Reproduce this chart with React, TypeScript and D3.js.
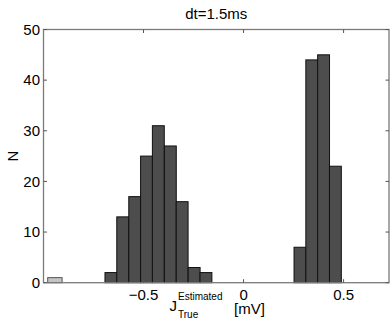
import React, { useEffect, useRef } from "react";
import * as d3 from "d3";

// histogram bins (centres in mV) and counts
const mainBins = [-0.663, -0.604, -0.544, -0.485, -0.426, -0.366, -0.307, -0.247, -0.188];
const mainCounts = [2, 13, 17, 25, 31, 27, 16, 3, 2];
const posBins = [0.282, 0.341, 0.4, 0.459];
const posCounts = [7, 44, 45, 23];
const outBins = [-0.943];
const outCounts = [1];
const binWidth = 0.0594;
const outWidth = 0.072;

const xTicks = [-0.5, 0, 0.5];
const yTicks = [0, 10, 20, 30, 40, 50];
const title = "dt=1.5ms";

export default function App() {
  const ref = useRef<SVGSVGElement>(null);

  useEffect(() => {
    const width = 392;
    const height = 323;
    const margin = { top: 29.5, right: 3, bottom: 40.3, left: 43.5 };
    const font = "Liberation Sans, Arial, sans-serif";

    const svg = d3.select(ref.current);
    svg.selectAll("*").remove();

    const x = d3.scaleLinear([-1, 0.727], [margin.left, width - margin.right]);
    const y = d3.scaleLinear([0, 50], [height - margin.bottom, margin.top]);

    const dark = mainBins.map((b, i) => ({ c: b, n: mainCounts[i] }))
      .concat(posBins.map((b, i) => ({ c: b, n: posCounts[i] })));
    const light = outBins.map((b, i) => ({ c: b, n: outCounts[i] }));

    svg.append("g")
      .selectAll("rect")
      .data(dark)
      .join("rect")
      .attr("x", d => x(d.c - binWidth / 2))
      .attr("width", d => x(d.c + binWidth / 2) - x(d.c - binWidth / 2))
      .attr("y", d => y(d.n))
      .attr("height", d => y(0) - y(d.n))
      .attr("fill", "#4d4d4d")
      .attr("stroke", "#111")
      .attr("stroke-width", 1);

    svg.append("g")
      .selectAll("rect")
      .data(light)
      .join("rect")
      .attr("x", d => x(d.c - outWidth / 2))
      .attr("width", d => x(d.c + outWidth / 2) - x(d.c - outWidth / 2))
      .attr("y", d => y(d.n))
      .attr("height", d => y(0) - y(d.n))
      .attr("fill", "#c4c4c4")
      .attr("stroke", "#555")
      .attr("stroke-width", 1);

    // box
    const [x0, x1] = x.range();
    const [y0, y1] = y.range();
    svg.append("rect")
      .attr("x", x0).attr("y", y1)
      .attr("width", x1 - x0).attr("height", y0 - y1)
      .attr("fill", "none")
      .attr("stroke", "#7a7a7a")
      .attr("stroke-width", 1.3);

    const tl = 3.5;
    const ticks = svg.append("g").attr("stroke", "#555").attr("stroke-width", 1);
    xTicks.forEach(t => {
      ticks.append("line").attr("x1", x(t)).attr("x2", x(t)).attr("y1", y0).attr("y2", y0 - tl);
      ticks.append("line").attr("x1", x(t)).attr("x2", x(t)).attr("y1", y1).attr("y2", y1 + tl);
    });
    yTicks.forEach(t => {
      ticks.append("line").attr("x1", x0).attr("x2", x0 + tl).attr("y1", y(t)).attr("y2", y(t));
      ticks.append("line").attr("x1", x1).attr("x2", x1 - tl).attr("y1", y(t)).attr("y2", y(t));
    });

    const labels = svg.append("g")
      .style("font-family", font)
      .attr("font-size", 15)
      .attr("fill", "#000");

    labels.selectAll(".xt")
      .data(xTicks)
      .join("text")
      .attr("x", d => x(d))
      .attr("y", y0 + 17)
      .attr("text-anchor", "middle")
      .text(d => (d < 0 ? "\u2212" : "") + String(Math.abs(d)));

    labels.selectAll(".yt")
      .data(yTicks)
      .join("text")
      .attr("x", x0 - 3.5)
      .attr("y", d => y(d) + 5.3)
      .attr("text-anchor", "end")
      .text(d => d);

    // title
    labels.append("text")
      .attr("x", (x0 + x1) / 2)
      .attr("y", 19)
      .attr("text-anchor", "middle")
      .text(title);

    // y label
    labels.append("text")
      .attr("transform", `translate(17.5, ${(y0 + y1) / 2}) rotate(-90)`)
      .attr("text-anchor", "middle")
      .text("N");

    // x label: J with super/subscripts
    const xl = labels.append("g");
    xl.append("text").attr("x", 169.5).attr("y", 310.5).text("J");
    xl.append("text").attr("x", 178).attr("y", 300).attr("font-size", 10).text("Estimated");
    xl.append("text").attr("x", 178).attr("y", 318).attr("font-size", 10).text("True");
    xl.append("text").attr("x", 234).attr("y", 314).text("[mV]");
  }, []);

  return (
    <div style={{ position: "absolute", left: 0, top: 0 }}>
      <svg ref={ref} width={392} height={323} style={{ display: "block", background: "#fff" }} />
    </div>
  );
}
